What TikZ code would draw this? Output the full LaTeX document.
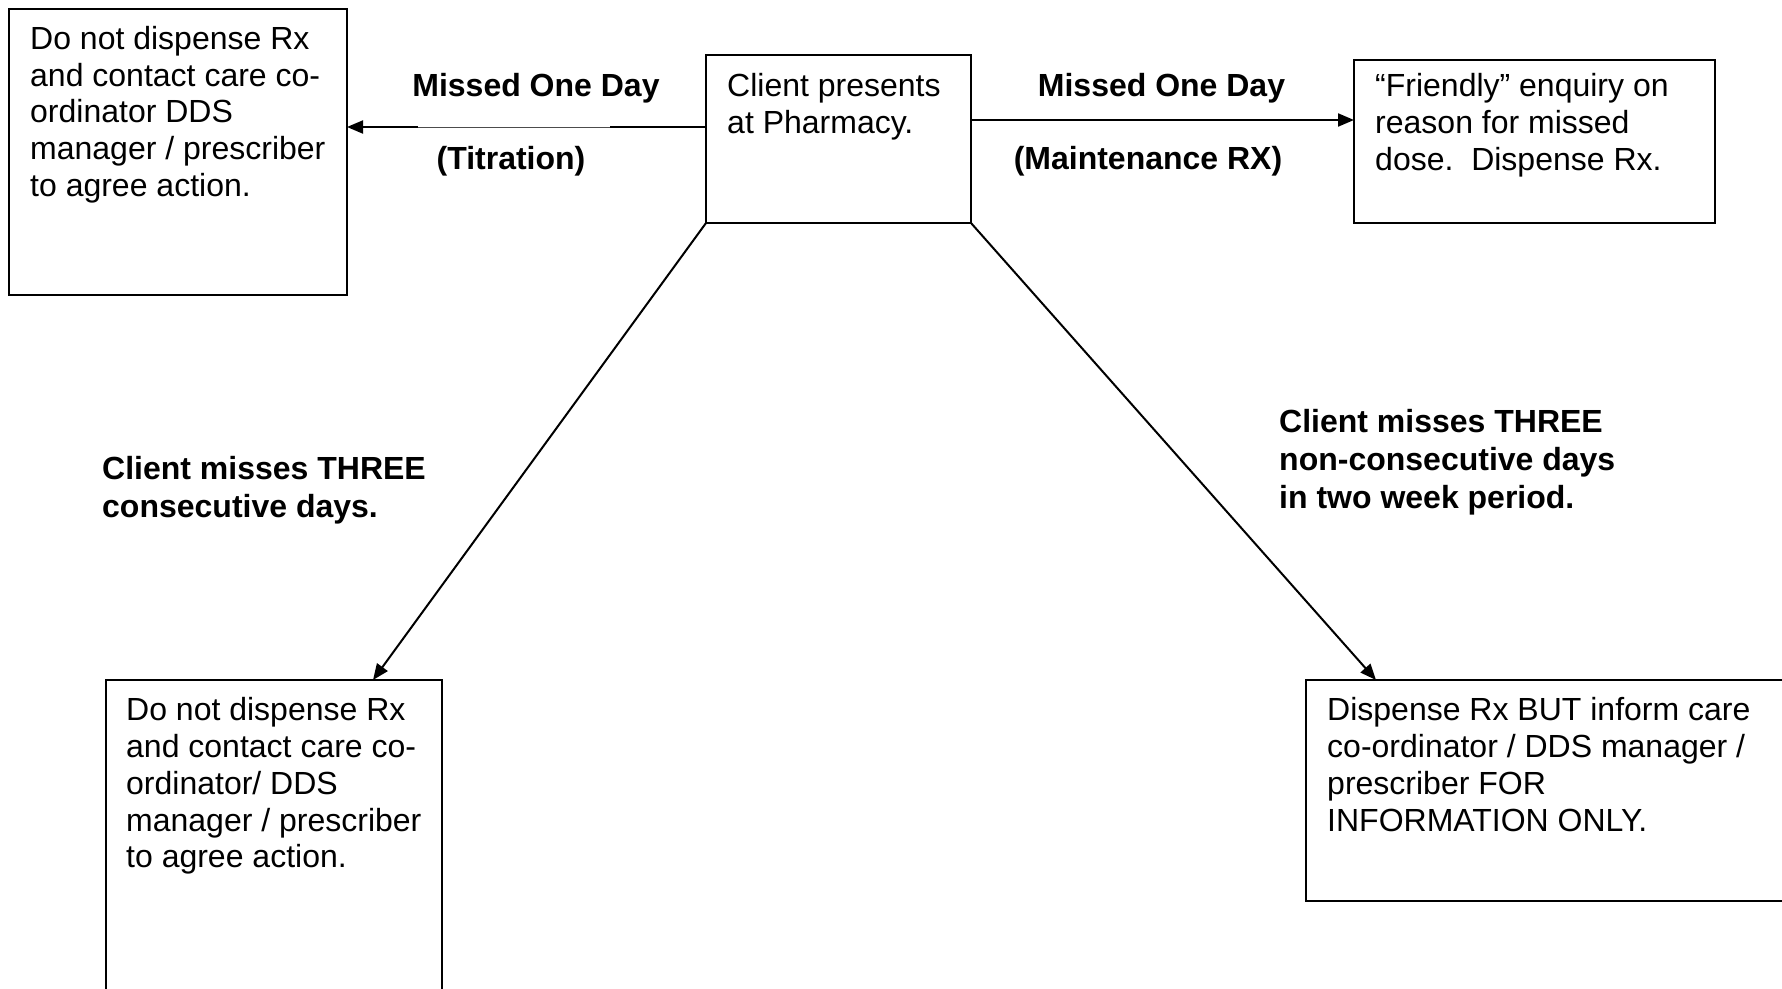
\documentclass[tikz,border=0pt]{standalone}
\usepackage{fontspec}
\setmainfont{Liberation Sans}
\usetikzlibrary{arrows.meta}
\tikzset{
  box/.style={draw, line width=2pt, anchor=north west, inner sep=0pt, outer sep=0pt},
  txt/.style={anchor=north west, inner sep=0pt, align=left, font=\fontsize{32}{36.7}\selectfont},
  lbl/.style={anchor=base, inner sep=0pt, font=\bfseries\fontsize{32}{38}\selectfont},
  mlbl/.style={anchor=north west, inner sep=0pt, align=left, font=\bfseries\fontsize{32}{38}\selectfont},
  arr/.style={line width=2pt, -{Triangle[length=16pt,width=13pt]}}
}
\begin{document}
\begin{tikzpicture}[x=1pt,y=-1pt]
\useasboundingbox (0,0) rectangle (1782,988);
% boxes
\node[box, minimum width=338pt, minimum height=286pt] (tl) at (9,9) {};
\node[box, minimum width=265pt, minimum height=168pt] (ctr) at (706,55) {};
\node[box, minimum width=361pt, minimum height=163pt] (tr) at (1354,60) {};
\node[box, minimum width=336pt, minimum height=340pt] (bl) at (106,680) {};
\node[box, minimum width=500pt, minimum height=221pt] (br) at (1306,680) {};
% box texts
\node[txt] (tlt) at (30,26) {Do not dispense Rx\\and contact care co-\\ordinator DDS\\manager / prescriber\\to agree action.};
\node[txt] (ctrt) at (727,73.5) {Client presents\\at Pharmacy.};
\node[txt] (trt) at (1375,73.5) {“Friendly” enquiry on\\reason for missed\\dose.\ \ Dispense Rx.};
\node[txt] (blt) at (126,697.5) {Do not dispense Rx\\and contact care co-\\ordinator/ DDS\\manager / prescriber\\to agree action.};
\node[txt] (brt) at (1327,697.5) {Dispense Rx BUT inform care\\co-ordinator / DDS manager /\\prescriber FOR\\INFORMATION ONLY.};
% connectors
\coordinate (ls) at ([yshift=12pt]ctr.west);
\coordinate (le) at (ls -| tl.east);
\draw[arr] (ls) -- (le);
\draw[white, line width=2.6pt] ([xshift=71pt]le) -- ([xshift=-96pt]ls);
\draw[black!70, line width=0.6pt] ([xshift=71pt]le) -- ([xshift=-96pt]ls);
\draw[arr] ([yshift=19pt]ctr.east) -- ([yshift=19pt]ctr.east -| tr.west);
\draw[arr] (ctr.south west) -- ([xshift=267pt]bl.north west);
\draw[arr] (ctr.south east) -- ([xshift=70pt]br.north west);
% labels
\node[lbl] (l1) at (536,96.5) {Missed One Day};
\node[lbl] (l2) at (511,169.5) {(Titration)};
\node[lbl] (r1) at (1161.5,96.5) {Missed One Day};
\node[lbl] (r2) at (1148,169.5) {(Maintenance RX)};
\node[mlbl] (bll) at (102,456.5) {Client misses THREE\\consecutive days.};
\node[mlbl] (brl) at (1279,409) {Client misses THREE\\non-consecutive days\\in two week period.};
\end{tikzpicture}
\end{document}
